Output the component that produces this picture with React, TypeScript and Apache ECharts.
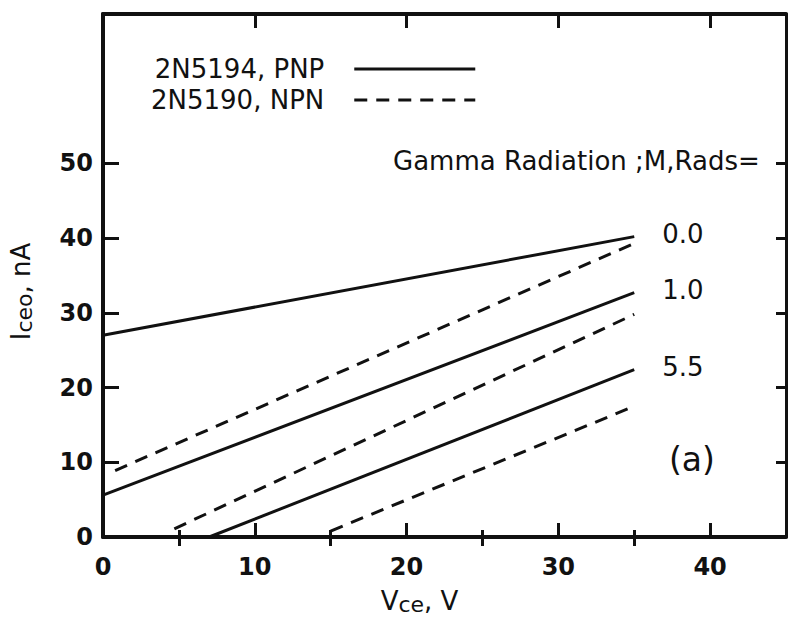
import React, { useEffect, useRef } from "react";
import * as echarts from "echarts";

// Iceo (nA) versus Vce (V) for two transistor types at three gamma doses.
const doses = ["0.0", "1.0", "5.5"];
// 2N5194 PNP (solid lines): [Vce, Iceo]
const pnp00 = [[0, 27.0], [35, 40.2]];
const pnp10 = [[0, 5.6], [35, 32.7]];
const pnp55 = [[7.0, 0], [35, 22.4]];
// 2N5190 NPN (dashed lines)
const npn00 = [[0.8, 8.9], [35, 39.3]];
const npn10 = [[4.7, 1.1], [35, 29.8]];
const npn55 = [[15.0, 0.8], [35, 17.5]];

const xLabels = [0, 10, 20, 30, 40];
const xMinor = [5, 15, 25, 35];
const yLabels = [0, 10, 20, 30, 40, 50];

const PNP = "2N5194, PNP";
const NPN = "2N5190, NPN";
const FONT = "DejaVu Sans";
const INK = "#111";

export default function App() {
  const ref = useRef<HTMLDivElement>(null);

  useEffect(() => {
    if (!ref.current) return;
    const chart = echarts.init(ref.current, null, { renderer: "svg" });

    const solid = [pnp00, pnp10, pnp55];
    const dashed = [npn00, npn10, npn55];

    const series: any[] = [];
    solid.forEach((d, i) => {
      series.push({
        type: "line",
        name: PNP,
        data: d,
        symbol: "none",
        lineStyle: { color: INK, width: 3, type: "solid" },
        itemStyle: { color: INK },
        endLabel: {
          show: true,
          formatter: doses[i],
          distance: 28,
          offset: [0, -3],
          fontFamily: FONT,
          fontSize: 26,
          color: INK,
        },
      });
    });
    dashed.forEach((d) => {
      series.push({
        type: "line",
        name: NPN,
        data: d,
        symbol: "none",
        lineStyle: { color: INK, width: 3, type: [13, 9] },
        itemStyle: { color: INK },
      });
    });

    const frameLine = (w: number) => ({ show: true, onZero: false, lineStyle: { color: INK, width: w } });

    chart.setOption({
      animation: false,
      backgroundColor: "#fff",
      grid: { left: 102, right: 3, top: 14, bottom: 92, containLabel: false },
      legend: {
        orient: "vertical",
        left: 146,
        top: 51,
        align: "right",
        itemWidth: 121,
        itemHeight: 20,
        itemGap: 5,
        data: [PNP, NPN],
        itemStyle: { opacity: 0, borderWidth: 0 },
        lineStyle: { width: 3 },
        textStyle: { fontFamily: FONT, fontSize: 26, color: INK, padding: [0, 25, 0, 0] },
      },
      xAxis: [
        {
          type: "value",
          position: "bottom",
          min: 0,
          max: 45,
          interval: 5,
          axisLine: frameLine(4),
          axisTick: { show: true, inside: true, length: 14, lineStyle: { color: INK, width: 3 }, customValues: xLabels },
          axisLabel: {
            show: true,
            customValues: xLabels,
            margin: 18,
            fontFamily: FONT,
            fontSize: 24,
            fontWeight: "bold",
            color: INK,
          },
          splitLine: { show: false },
          name: "{v|V}{s|ce}{v|, V}",
          nameLocation: "middle",
          nameGap: 50,
          nameTextStyle: {
            padding: [0, 50, 0, 0],
            rich: {
              v: { fontFamily: FONT, fontSize: 26, color: INK, lineHeight: 28 },
              s: { fontFamily: FONT, fontSize: 22, color: INK, lineHeight: 14, verticalAlign: "bottom" },
            },
          },
        },
        {
          type: "value",
          position: "bottom",
          min: 0,
          max: 45,
          interval: 5,
          axisLine: { show: false },
          axisTick: { show: true, inside: true, length: 7, lineStyle: { color: INK, width: 3 }, customValues: xMinor },
          axisLabel: { show: false },
          splitLine: { show: false },
        },
        {
          type: "value",
          position: "top",
          min: 0,
          max: 45,
          interval: 5,
          axisLine: frameLine(4),
          axisTick: { show: true, inside: true, length: 14, lineStyle: { color: INK, width: 3 }, customValues: [10, 20, 30, 40] },
          axisLabel: { show: false },
          splitLine: { show: false },
        },
        {
          type: "value",
          position: "top",
          min: 0,
          max: 45,
          interval: 5,
          axisLine: { show: false },
          axisTick: { show: true, inside: true, length: 9, lineStyle: { color: INK, width: 3 }, customValues: xMinor },
          axisLabel: { show: false },
          splitLine: { show: false },
        },
      ],
      yAxis: [
        {
          type: "value",
          position: "left",
          min: 0,
          max: 70,
          interval: 10,
          axisLine: frameLine(4),
          axisTick: { show: true, inside: true, length: 16, lineStyle: { color: INK, width: 3 }, customValues: yLabels },
          axisLabel: {
            show: true,
            customValues: yLabels,
            margin: 10,
            fontFamily: FONT,
            fontSize: 24,
            fontWeight: "bold",
            color: INK,
          },
          splitLine: { show: false },
          name: "{v|I}{s|ceo}{v|, nA}",
          nameLocation: "middle",
          nameRotate: 90,
          nameGap: 68,
          nameTextStyle: {
            padding: [0, 32, 0, 0],
            rich: {
              v: { fontFamily: FONT, fontSize: 26, color: INK, lineHeight: 28 },
              s: { fontFamily: FONT, fontSize: 22, color: INK, lineHeight: 14, verticalAlign: "bottom" },
            },
          },
        },
        {
          type: "value",
          position: "right",
          min: 0,
          max: 70,
          interval: 10,
          axisLine: frameLine(3),
          axisTick: { show: true, inside: true, length: 10, lineStyle: { color: INK, width: 3 }, customValues: [10, 20, 30, 40, 50] },
          axisLabel: { show: false },
          splitLine: { show: false },
        },
      ],
      graphic: [
        {
          type: "text",
          left: 393,
          top: 148,
          style: { text: "Gamma Radiation ;M,Rads=", fontFamily: FONT, fontSize: 26, fill: INK },
        },
        {
          type: "text",
          left: 669,
          top: 443,
          style: { text: "(a)", fontFamily: FONT, fontSize: 33, fill: INK },
        },
      ],
      series,
    });

    return () => chart.dispose();
  }, []);

  return (
    <div
      ref={ref}
      style={{ position: "fixed", left: 0, top: 0, width: 789, height: 629, background: "#fff" }}
    />
  );
}
